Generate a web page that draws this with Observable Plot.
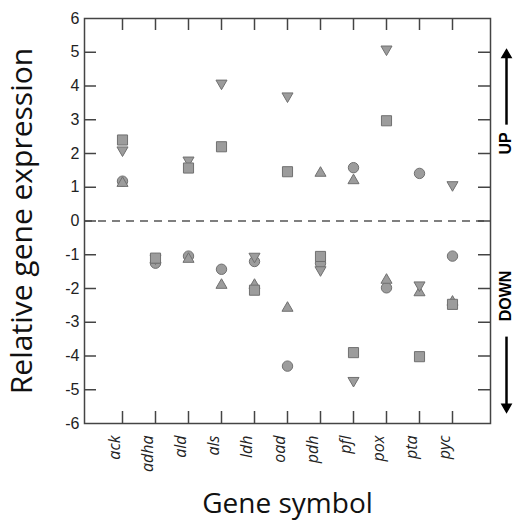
<!DOCTYPE html>
<html><head><meta charset="utf-8">
<script src="https://cdn.jsdelivr.net/npm/d3@7"></script>
<script src="https://cdn.jsdelivr.net/npm/@observablehq/plot@0.6"></script>
<style>body{margin:0;background:#fff;}</style>
</head><body><div id="chart"></div>
<script>
const genes = ["ack","adha","ald","als","ldh","oad","pdh","pfl","pox","pta","pyc"];
const circleVals  = [1.18, -1.25, -1.04, -1.43, -1.20, -4.30, -1.25, 1.58, -1.98, 1.41, -1.04];
const squareVals  = [2.40, -1.10, 1.57, 2.20, -2.05, 1.46, -1.05, -3.90, 2.97, -4.02, -2.47];
const triUpVals   = [1.12, -1.15, -1.13, -1.90, -1.90, -2.58, 1.42, 1.20, -1.75, -2.12, -2.40];
const triDownVals = [2.10, -1.10, 1.80, 4.08, -1.05, 3.70, -1.45, -4.73, 5.09, -1.90, 1.07];
const yTickLabels = [-6,-5,-4,-3,-2,-1,0,1,2,3,4,5,6];
const innerTicks = [-5,-4,-3,-2,-1,0,1,2,3,4,5];
const annotations = [
  {label:"UP", mid:2.3, from:2.84, to:4.92, dir:0},
  {label:"DOWN", mid:-2.22, from:-3.44, to:-5.51, dir:180}
];
const rows = vals => genes.map((g,i)=>({gene:g, value:vals[i]}));

const W=514, H=527, mL=84, mR=24, mT=18, mB=104;
const frameW = W-mL-mR, frameH = H-mT-mB;
const fillC = "#9c9c9c", strokeC = "#707070", axisC = "#444";
const sans = "'Open Sans', sans-serif";

const chart = Plot.plot({
  width:W, height:H, marginLeft:mL, marginRight:mR, marginTop:mT, marginBottom:mB,
  style:{background:"#fff", fontFamily:"'Liberation Sans', Arial, sans-serif"},
  x:{type:"point", domain:genes, padding:1, axis:null},
  y:{domain:[-6,6], axis:null},
  marks:[
    Plot.ruleY([0], {stroke:"#555", strokeWidth:1.5, strokeDasharray:"8,6"}),
    Plot.tickY(innerTicks, {y:d=>d, insetRight:frameW-12, stroke:axisC, strokeWidth:1.5}),
    Plot.tickY(innerTicks, {y:d=>d, insetLeft:frameW-12, stroke:axisC, strokeWidth:1.5}),
    Plot.tickX(genes, {x:d=>d, insetBottom:frameH-12, stroke:axisC, strokeWidth:1.5}),
    Plot.tickX(genes, {x:d=>d, insetTop:frameH-12, stroke:axisC, strokeWidth:1.5}),
    Plot.frame({stroke:axisC, strokeWidth:1.5}),
    Plot.text(yTickLabels, {y:d=>d, text:d=>String(d), frameAnchor:"left", dx:-5, textAnchor:"end", fontSize:16, fill:"#222"}),
    Plot.text(genes, {x:d=>d, text:d=>d, frameAnchor:"bottom", dy:12, dx:-3, rotate:-90, textAnchor:"end", fontStyle:"italic", fontSize:16, fontFamily:sans, fill:"#222"}),
    Plot.dot(rows(circleVals), {x:"gene", y:"value", symbol:"circle", r:5.2, fill:fillC, stroke:strokeC, strokeWidth:1}),
    Plot.dot(rows(triUpVals), {x:"gene", y:"value", symbol:"triangle", r:4.1, fill:fillC, stroke:strokeC, strokeWidth:1}),
    Plot.dot(rows(triDownVals), {x:"gene", y:"value", symbol:"triangle", rotate:180, r:4.1, fill:fillC, stroke:strokeC, strokeWidth:1}),
    Plot.dot(rows(squareVals), {x:"gene", y:"value", symbol:"square", r:5.7, fill:fillC, stroke:strokeC, strokeWidth:1}),
    Plot.text(["Relative gene expression"], {frameAnchor:"left", dx:-62, rotate:-90, textAnchor:"middle", fontSize:30, fontFamily:sans, fill:"#111"}),
    Plot.text(["Gene symbol"], {frameAnchor:"bottom", dy:89, textAnchor:"middle", fontSize:28, fontFamily:sans, fill:"#111"}),
    Plot.ruleX(annotations, {x:null, y1:"from", y2:"to", dx:219, stroke:"#000", strokeWidth:2.5}),
    Plot.dot(annotations, {y:"to", symbol:"triangle", rotate:"dir", r:3.4, frameAnchor:"right", dx:16, fill:"#000", stroke:"#000"}),
    Plot.text(annotations, {y:"mid", text:"label", frameAnchor:"right", dx:15, rotate:-90, textAnchor:"middle", fontWeight:"bold", fontSize:16, fill:"#000"})
  ]
});
document.getElementById("chart").appendChild(chart);
</script>
</body></html>
